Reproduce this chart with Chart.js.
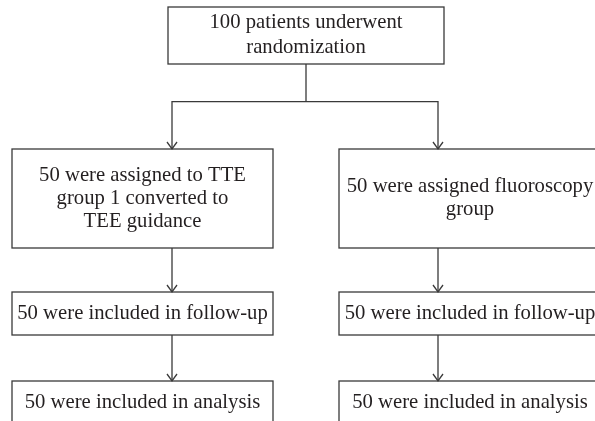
<!DOCTYPE html>
<html>
<head>
<meta charset="utf-8">
<script src="https://cdn.jsdelivr.net/npm/chart.js@4.4.1/dist/chart.umd.min.js"></script>
<style>
  html, body { margin: 0; padding: 0; background: #ffffff; }
  #wrap { width: 595px; height: 421px; position: relative; }
</style>
</head>
<body>
<div id="wrap"><canvas id="c" width="595" height="421"></canvas></div>
<script>
// ---- Flowchart content (data) ----
const nodeIds = ['rand', 'tte', 'fluoro', 'fuL', 'fuR', 'anL', 'anR'];
const nodeTexts = [
  ['100 patients underwent', 'randomization'],
  ['50 were assigned to TTE', 'group 1 converted to', 'TEE guidance'],
  ['50 were assigned fluoroscopy', 'group'],
  ['50 were included in follow-up'],
  ['50 were included in follow-up'],
  ['50 were included in analysis'],
  ['50 were included in analysis']
];
const patientCounts = [100, 50, 50, 50, 50, 50, 50];

// ---- Layout (positions in chart value space: x 0..595, y 0..421 top-down) ----
const nodeBoxes = [
  { x0: 168, x1: 444, y0: 7,   y1: 64,  tx: 306, lh: 25 },
  { x0: 12,  x1: 273, y0: 149, y1: 248, tx: 142.5, lh: 23 },
  { x0: 339, x1: 603, y0: 149, y1: 248, tx: 470, lh: 23 },
  { x0: 12,  x1: 273, y0: 292, y1: 335, tx: 142.5, lh: 23 },
  { x0: 339, x1: 603, y0: 292, y1: 335, tx: 470, lh: 23 },
  { x0: 12,  x1: 273, y0: 381, y1: 440, tx: 142.5, lh: 23, tyOff: 22 },
  { x0: 339, x1: 603, y0: 381, y1: 440, tx: 470, lh: 23, tyOff: 22 }
];
// connector polylines (x,y) ; arrow = arrowhead at end
const edges = [
  { pts: [[306, 64], [306, 101.7]], arrow: false },
  { pts: [[172, 149], [172, 101.7], [438, 101.7], [438, 149]], arrow: 'both' },
  { pts: [[172, 248], [172, 292]], arrow: true },
  { pts: [[438, 248], [438, 292]], arrow: true },
  { pts: [[172, 335], [172, 381]], arrow: true },
  { pts: [[438, 335], [438, 381]], arrow: true }
];

const LINE = '#3a3a3a';
const TEXT = '#231f20';
const FONT = '20.7px "Liberation Serif", "DejaVu Serif", serif';

const datasets = edges.map(e => ({
  type: 'line',
  data: e.pts.map(p => ({ x: p[0], y: p[1] })),
  borderColor: LINE,
  borderWidth: 1.3,
  pointRadius: 0,
  fill: false,
  tension: 0,
  showLine: true
}));

function arrowHead(ctx, x, y) {
  ctx.beginPath();
  ctx.moveTo(x - 5, y - 7);
  ctx.lineTo(x, y);
  ctx.lineTo(x + 5, y - 7);
  ctx.stroke();
}

const flowPlugin = {
  id: 'flow',
  afterDatasetsDraw(chart) {
    const ctx = chart.ctx;
    const xs = chart.scales.x, ys = chart.scales.y;
    ctx.save();
    ctx.strokeStyle = LINE;
    ctx.lineWidth = 1.3;
    nodeBoxes.forEach((b, i) => {
      const x0 = xs.getPixelForValue(b.x0), x1 = xs.getPixelForValue(b.x1);
      const y0 = ys.getPixelForValue(b.y0), y1 = ys.getPixelForValue(b.y1);
      ctx.fillStyle = '#ffffff';
      ctx.fillRect(x0, y0, x1 - x0, y1 - y0);
      ctx.strokeRect(x0, y0, x1 - x0, y1 - y0);
      const lines = nodeTexts[i];
      ctx.fillStyle = TEXT;
      ctx.font = FONT;
      ctx.textAlign = 'center';
      ctx.textBaseline = 'middle';
      const cx = xs.getPixelForValue(b.tx);
      const cy = b.tyOff !== undefined ? y0 + b.tyOff : (y0 + y1) / 2;
      const startY = cy - (lines.length - 1) * b.lh / 2;
      lines.forEach((t, k) => ctx.fillText(t, cx, startY + k * b.lh));
    });
    edges.forEach(e => {
      if (!e.arrow) return;
      const last = e.pts[e.pts.length - 1];
      arrowHead(ctx, xs.getPixelForValue(last[0]), ys.getPixelForValue(last[1]));
      if (e.arrow === 'both') {
        const first = e.pts[0];
        arrowHead(ctx, xs.getPixelForValue(first[0]), ys.getPixelForValue(first[1]));
      }
    });
    ctx.restore();
  }
};

new Chart(document.getElementById('c'), {
  type: 'scatter',
  data: { datasets },
  options: {
    responsive: false,
    animation: false,
    layout: { padding: 0 },
    plugins: { legend: { display: false }, tooltip: { enabled: false }, title: { display: false } },
    scales: {
      x: { type: 'linear', min: 0, max: 595, display: false },
      y: { type: 'linear', min: 0, max: 421, reverse: true, display: false }
    }
  },
  plugins: [flowPlugin]
});
</script>
</body>
</html>
